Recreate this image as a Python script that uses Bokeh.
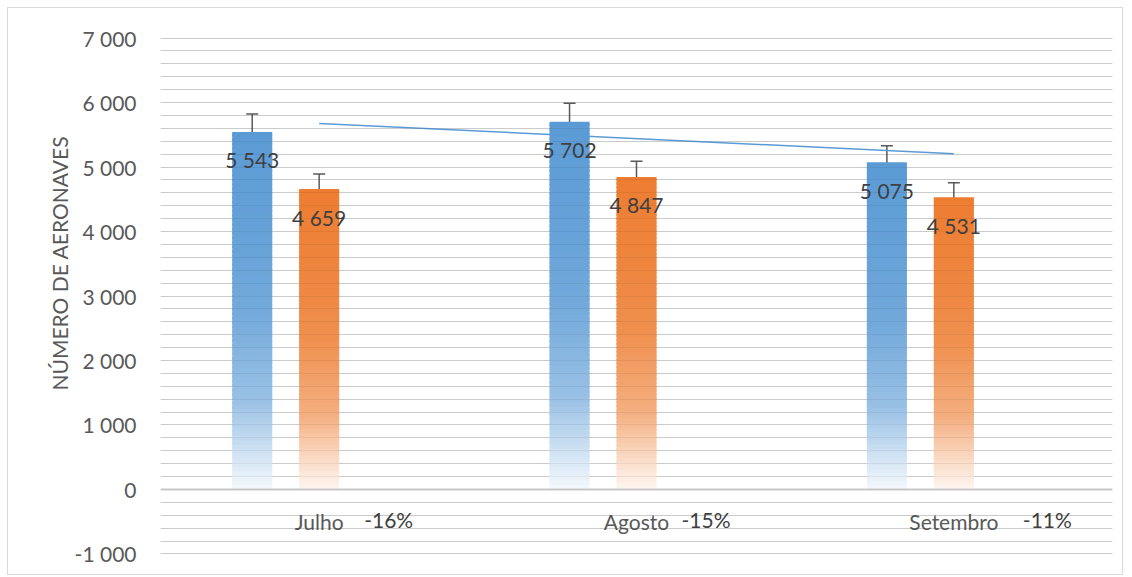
import numpy as np
from bokeh.plotting import figure
from bokeh.models import (ColumnDataSource, FactorRange, Range1d, SingleIntervalTicker,
                          CustomJSTickFormatter, Whisker, Span, TeeHead, Grid, Title)
from bokeh.transform import dodge
from bokeh.core.properties import value
from bokeh.embed import file_html
from bokeh.resources import INLINE

# ---- data ----
months = ["Julho", "Agosto", "Setembro"]
series_a = [5543, 5702, 5075]          # blue series
series_b = [4659, 4847, 4531]          # orange series
labels_a = ["5 543", "5 702", "5 075"]
labels_b = ["4 659", "4 847", "4 531"]
change_labels = ["-16%", "-15%", "-11%"]
error_pct = 0.05
y_title = "NÚMERO DE AERONAVES"

# ---- style ----
FONT = "Lato"
BLUE = "#5B9BD5"
ORANGE = "#ED7D31"
OFF = 0.211
BAR_W = 0.126
CHANGE_DX = [45, 45, 69]   # pixel nudges of the change labels

p = figure(x_range=FactorRange(factors=months), y_range=Range1d(-1008, 7008),
           width=1116, height=568, output_backend="svg", toolbar_location=None,
           min_border_left=152, min_border_right=12, min_border_top=29, min_border_bottom=22)
p.styles = {"border": "1px solid #D9D9D9", "margin-left": "7px", "margin-top": "7px"}
p.outline_line_color = None
p.background_fill_color = "white"

# axes
p.xaxis.visible = False
p.yaxis.ticker = SingleIntervalTicker(interval=1000)
p.yaxis.formatter = CustomJSTickFormatter(
    code="return tick.toFixed(0).replace(/\\B(?=(\\d{3})+(?!\\d))/g, ' ');")
p.yaxis.axis_line_color = None
p.yaxis.major_tick_line_color = None
p.yaxis.minor_tick_line_color = None
p.yaxis.major_label_standoff = 18
p.yaxis.major_label_text_font = FONT
p.yaxis.major_label_text_font_size = "21px"
p.yaxis.major_label_text_color = "#595959"

p.xgrid.grid_line_color = None
p.ygrid.ticker = SingleIntervalTicker(interval=200)
p.ygrid.grid_line_color = "#D8D8D8"
p.ygrid.grid_line_width = 1

# y axis title
p.add_layout(Title(text=y_title, align="left", offset=164, text_font=FONT,
                   text_font_size="21px", text_font_style="normal", text_color="#595959",
                   standoff=0), "left")

# gradient bars
stops_f = [0.0, 0.11, 0.25, 0.5, 0.67, 1.0]
stops_w = [0.93, 0.70, 0.38, 0.15, 0.08, 0.0]


def mix(hexc, w):
    rgb = [int(hexc[i:i + 2], 16) for i in (1, 3, 5)]
    return "#%02x%02x%02x" % tuple(int(round(c + (255 - c) * w)) for c in rgb)


N = 80
for vals, col, off in ((series_a, BLUE, -OFF), (series_b, ORANGE, 0.0)):
    xs, bots, tops, cols = [], [], [], []
    for m, v in zip(months, vals):
        for k in range(N):
            f0, f1 = k / N, (k + 1) / N
            w = float(np.interp((f0 + f1) / 2, stops_f, stops_w))
            xs.append(m)
            bots.append(f0 * v)
            tops.append(min(f1 + 0.6 / N, 1.0) * v)
            cols.append(mix(col, w))
    src = ColumnDataSource(dict(x=xs, bottom=bots, top=tops, color=cols))
    p.vbar(x=dodge("x", off, range=p.x_range), bottom="bottom", top="top", width=BAR_W,
           fill_color="color", line_color=None, source=src)

# faint grid showing through the bars
p.add_layout(Grid(dimension=1, ticker=SingleIntervalTicker(interval=200), level="overlay",
                  grid_line_color="#000000", grid_line_alpha=0.06, grid_line_width=1))
p.add_layout(Span(location=0, dimension="width", line_color="#CFCFCF", line_width=2))

# trend line (linear fit of blue series, drawn at category centres)
idx = np.arange(1, len(series_a) + 1)
slope, icpt = np.polyfit(idx, series_a, 1)
p.line(x=[months[0], months[-1]], y=[slope * idx[0] + icpt, slope * idx[-1] + icpt],
       line_color=BLUE, line_width=1.5)

# data labels + error bars
for vals, labs, off in ((series_a, labels_a, -OFF), (series_b, labels_b, 0.0)):
    src = ColumnDataSource(dict(x=months, y=vals, label=labs,
                                upper=[v * (1 + error_pct) for v in vals],
                                lower=[v * (1 - error_pct) for v in vals]))
    p.text(x=dodge("x", off, range=p.x_range), y="y", text="label", source=src,
           text_align="center", text_baseline="middle", y_offset=28,
           text_font=value(FONT), text_font_size="21px", text_color="#404040")
    wk = Whisker(base=dodge("x", off, range=p.x_range), upper="upper", lower="lower",
                 source=src, dimension="height", line_color="#595959", line_width=1.5,
                 upper_head=TeeHead(size=12, line_color="#595959", line_width=1.5),
                 lower_head=TeeHead(size=12, line_color="#595959", line_width=1.5))
    p.add_layout(wk)

# category labels and change labels
cat_src = ColumnDataSource(dict(x=months, y=[0] * len(months), change=change_labels,
                                dx=CHANGE_DX))
p.text(x="x", y="y", text="x", source=cat_src, text_align="center", text_baseline="middle",
       y_offset=32, text_font=value(FONT), text_font_size="21px", text_color="#595959")
p.text(x="x", y="y", text="change", source=cat_src, x_offset="dx",
       text_align="left", text_baseline="middle", y_offset=30,
       text_font=value(FONT), text_font_size="21px", text_color="#404040")

open("out.html", "w").write(file_html(p, INLINE))
